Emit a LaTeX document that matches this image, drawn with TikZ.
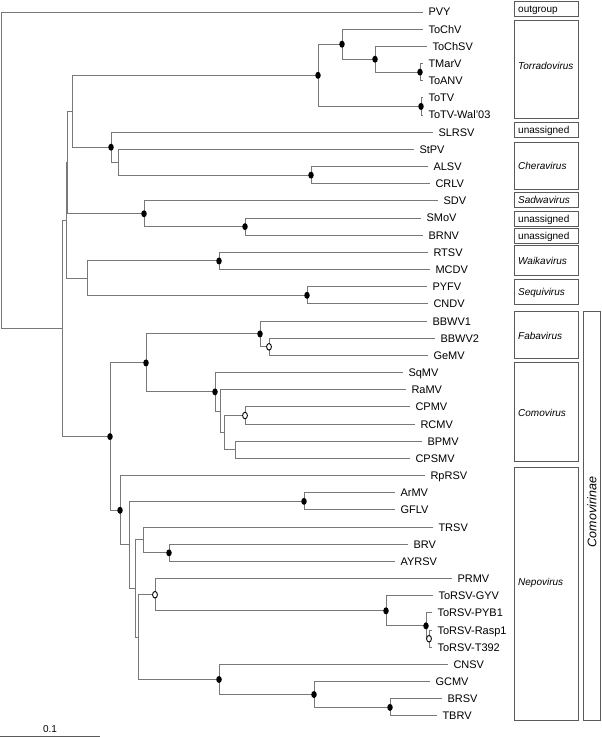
\documentclass[tikz,border=0pt]{standalone}
\usepackage{fontspec}
\setmainfont{Liberation Sans}
\usetikzlibrary{shapes.geometric}
\definecolor{brc}{RGB}{120,120,120}
\definecolor{bxc}{RGB}{90,90,90}
\begin{document}
\begin{tikzpicture}[x=1pt,y=-1pt,
  br/.style={draw=brc, line width=1pt},
  leafl/.style={anchor=west, inner xsep=5.5pt, inner ysep=0pt, outer sep=0pt,
    font=\fontsize{11}{13}\selectfont, text height=7.9pt, text depth=0pt},
  fdot/.style={ellipse, fill=black, inner sep=0pt, minimum width=5.5pt, minimum height=7pt},
  odot/.style={ellipse, draw=black, fill=white, line width=0.9pt, inner sep=0pt, minimum width=4.8pt, minimum height=6.6pt},
  gbox/.style={draw=bxc, line width=0.9pt, inner sep=0pt, outer sep=0pt, anchor=north west, minimum width=64pt},
  glab/.style={anchor=west, inner sep=0pt, font=\fontsize{10}{12}\selectfont\itshape, text height=7.2pt, text depth=0pt},
  glabu/.style={glab, font=\fontsize{10}{12}\selectfont},
]
\useasboundingbox (0,0) rectangle (602,737);

% ---------- leaves ----------
\node[leafl] (pvy)    at (423,12.00)  {PVY};
\node[leafl] (tochv)  at (423,29.17)  {ToChV};
\node[leafl] (tochsv) at (427,46.34)  {ToChSV};
\node[leafl] (tmarv)  at (423,63.51)  {TMarV};
\node[leafl] (toanv)  at (423,80.68)  {ToANV};
\node[leafl] (totv)   at (423,97.85)  {ToTV};
\node[leafl] (wal)    at (423,115.02) {ToTV-Wal'03};
\node[leafl] (slrsv)  at (433,132.19) {SLRSV};
\node[leafl] (stpv)   at (414,149.36) {StPV};
\node[leafl] (alsv)   at (428,166.53) {ALSV};
\node[leafl] (crlv)   at (430,183.70) {CRLV};
\node[leafl] (sdv)    at (438,200.87) {SDV};
\node[leafl] (smov)   at (421,218.04) {SMoV};
\node[leafl] (brnv)   at (423,235.21) {BRNV};
\node[leafl] (rtsv)   at (428,252.38) {RTSV};
\node[leafl] (mcdv)   at (430,269.55) {MCDV};
\node[leafl] (pyfv)   at (427,286.72) {PYFV};
\node[leafl] (cndv)   at (428,303.89) {CNDV};
\node[leafl] (bbwva)  at (427,321.06) {BBWV1};
\node[leafl] (bbwvb)  at (435,338.23) {BBWV2};
\node[leafl] (gemv)   at (428,355.40) {GeMV};
\node[leafl] (sqmv)   at (403,372.57) {SqMV};
\node[leafl] (ramv)   at (406,389.74) {RaMV};
\node[leafl] (cpmv)   at (410,406.91) {CPMV};
\node[leafl] (rcmv)   at (415,424.08) {RCMV};
\node[leafl] (bpmv)   at (422,441.25) {BPMV};
\node[leafl] (cpsmv)  at (410,458.42) {CPSMV};
\node[leafl] (rprsv)  at (425,475.59) {RpRSV};
\node[leafl] (armv)   at (395,492.76) {ArMV};
\node[leafl] (gflv)   at (395,509.93) {GFLV};
\node[leafl] (trsv)   at (433,527.10) {TRSV};
\node[leafl] (brv)    at (408,544.27) {BRV};
\node[leafl] (ayrsv)  at (395,561.44) {AYRSV};
\node[leafl] (prmv)   at (452,578.61) {PRMV};
\node[leafl] (gyv)    at (433,595.78) {ToRSV-GYV};
\node[leafl] (pyb)    at (432,612.95) {ToRSV-PYB1};
\node[leafl] (rasp)   at (432,630.12) {ToRSV-Rasp1};
\node[leafl] (tns)    at (432,647.29) {ToRSV-T392};
\node[leafl] (cnsv)   at (448,664.46) {CNSV};
\node[leafl] (gcmv)   at (430,681.63) {GCMV};
\node[leafl] (brsv)   at (442,698.80) {BRSV};
\node[leafl] (tbrv)   at (437,715.97) {TBRV};

% ---------- internal nodes ----------
\coordinate (root) at (1,170.2);
\coordinate (ing)  at (62,328.47);
\coordinate (n1)   at (66,220.33);
\coordinate (n2)   at (67,162.51);
\coordinate (n3)   at (72,111.27);
\coordinate (torr) at (318,75.32);
\coordinate (t1)   at (342,44.2);
\coordinate (t2)   at (375,59.22);
\coordinate (t3)   at (420,72.1);
\coordinate (tt)   at (421,106.44);
\coordinate (ch)   at (111,147.21);
\coordinate (c1)   at (118,162.24);
\coordinate (c2)   at (311,175.12);
\coordinate (s)    at (144,213.75);
\coordinate (s1)   at (245,226.63);
\coordinate (ws)   at (87,278.14);
\coordinate (w1)   at (219,260.97);
\coordinate (q1)   at (307,295.31);
\coordinate (como) at (110,436.6);
\coordinate (cf)   at (146,362.92);
\coordinate (fab)  at (260,333.94);
\coordinate (fb)   at (269,346.82);
\coordinate (com)  at (215,391.89);
\coordinate (c2a)  at (220,411.21);
\coordinate (c3)   at (224,432.67);
\coordinate (cr)   at (245,415.5);
\coordinate (cb)   at (235,449.84);
\coordinate (nep)  at (120,510.27);
\coordinate (n4)   at (129,544.95);
\coordinate (ag)   at (304,501.35);
\coordinate (n5)   at (135,588.54);
\coordinate (tr)   at (143,539.98);
\coordinate (ba)   at (169,552.86);
\coordinate (n6)   at (138,637.1);
\coordinate (pr)   at (155,594.71);
\coordinate (to1)  at (386,610.81);
\coordinate (to2)  at (426,625.83);
\coordinate (to3)  at (429,638.71);
\coordinate (cn)   at (219,679.49);
\coordinate (g1)   at (314,694.51);
\coordinate (g2)   at (390,707.39);

% ---------- branches ----------
\foreach \p/\c in {root/pvy.west, root/ing, ing/n1, ing/como, n1/n2, n1/ws,
  n2/n3, n2/s, n3/torr, n3/ch, torr/t1, torr/tt, t1/tochv.west, t1/t2,
  t2/tochsv.west, t2/t3, t3/tmarv.west, t3/toanv.west, tt/totv.west, tt/wal.west,
  ch/slrsv.west, ch/c1, c1/stpv.west, c1/c2, c2/alsv.west, c2/crlv.west,
  s/sdv.west, s/s1, s1/smov.west, s1/brnv.west, ws/w1, ws/q1,
  w1/rtsv.west, w1/mcdv.west, q1/pyfv.west, q1/cndv.west,
  como/cf, como/nep, cf/fab, cf/com, fab/bbwva.west, fab/fb,
  fb/bbwvb.west, fb/gemv.west, com/sqmv.west, com/c2a, c2a/ramv.west, c2a/c3,
  c3/cr, c3/cb, cr/cpmv.west, cr/rcmv.west, cb/bpmv.west, cb/cpsmv.west,
  nep/rprsv.west, nep/n4, n4/ag, n4/n5, ag/armv.west, ag/gflv.west,
  n5/tr, n5/n6, tr/trsv.west, tr/ba, ba/brv.west, ba/ayrsv.west,
  n6/pr, n6/cn, pr/prmv.west, pr/to1, to1/gyv.west, to1/to2,
  to2/pyb.west, to2/to3, to3/rasp.west, to3/tns.west,
  cn/cnsv.west, cn/g1, g1/gcmv.west, g1/g2, g2/brsv.west, g2/tbrv.west}
  \draw[br] (\p) |- (\c);

% ---------- support markers ----------
\foreach \m in {torr,t1,t2,t3,tt,ch,c2,s,s1,w1,q1,como,cf,fab,com,nep,ag,ba,to1,to2,cn,g1,g2}
  \node[fdot] (m\m) at (\m) {};
\foreach \m in {fb,cr,pr,to3}
  \node[odot] (m\m) at (\m) {};

% ---------- group boxes ----------
\node[gbox, minimum height=15pt]  (bout)  at (514,1)   {};
\node[gbox, minimum height=98pt]  (btorr) at (514,20)  {};
\node[gbox, minimum height=15pt]  (bun1)  at (514,122) {};
\node[gbox, minimum height=47pt]  (bcher) at (514,142) {};
\node[gbox, minimum height=15pt]  (bsadw) at (514,192) {};
\node[gbox, minimum height=15pt]  (bun2)  at (514,211) {};
\node[gbox, minimum height=15pt]  (bun3)  at (514,228) {};
\node[gbox, minimum height=30pt]  (bwaik) at (514,245) {};
\node[gbox, minimum height=25pt]  (bsequ) at (514,279) {};
\node[gbox, minimum height=47pt]  (bfaba) at (514,311) {};
\node[gbox, minimum height=99pt]  (bcomo) at (514,362) {};
\node[gbox, minimum height=253pt] (bnepo) at (514,467) {};
\node[gbox, minimum width=17pt, minimum height=409pt] (bsub) at (583,311) {};

\node[glabu] (lout)  at (518,8.5)   {outgroup};
\node[glab]  (ltorr) at (518,66)    {Torradovirus};
\node[glabu] (lun1)  at (518,129.5) {unassigned};
\node[glab]  (lcher) at (518,166)   {Cheravirus};
\node[glab]  (lsadw) at (518,199.5) {Sadwavirus};
\node[glabu] (lun2)  at (518,218.5) {unassigned};
\node[glabu] (lun3)  at (518,235.5) {unassigned};
\node[glab]  (lwaik) at (518,261)   {Waikavirus};
\node[glab]  (lsequ) at (518,292)   {Sequivirus};
\node[glab]  (lfaba) at (518,336)   {Fabavirus};
\node[glab]  (lcomo) at (518,413)   {Comovirus};
\node[glab]  (lnepo) at (518,582)   {Nepovirus};
\node[rotate=90, inner sep=0pt, font=\fontsize{12.5}{14}\selectfont\itshape] (lsub) at (592,512) {Comovirinae};

% ---------- scale bar ----------
\coordinate (sb0) at (0,736);
\coordinate (sb1) at (100,736);
\draw[draw=bxc, line width=0.9pt] (sb0) -- (sb1);
\node[inner sep=0pt, font=\fontsize{10}{12}\selectfont] (sbl) at (50,729.5) {0.1};
\end{tikzpicture}
\end{document}
